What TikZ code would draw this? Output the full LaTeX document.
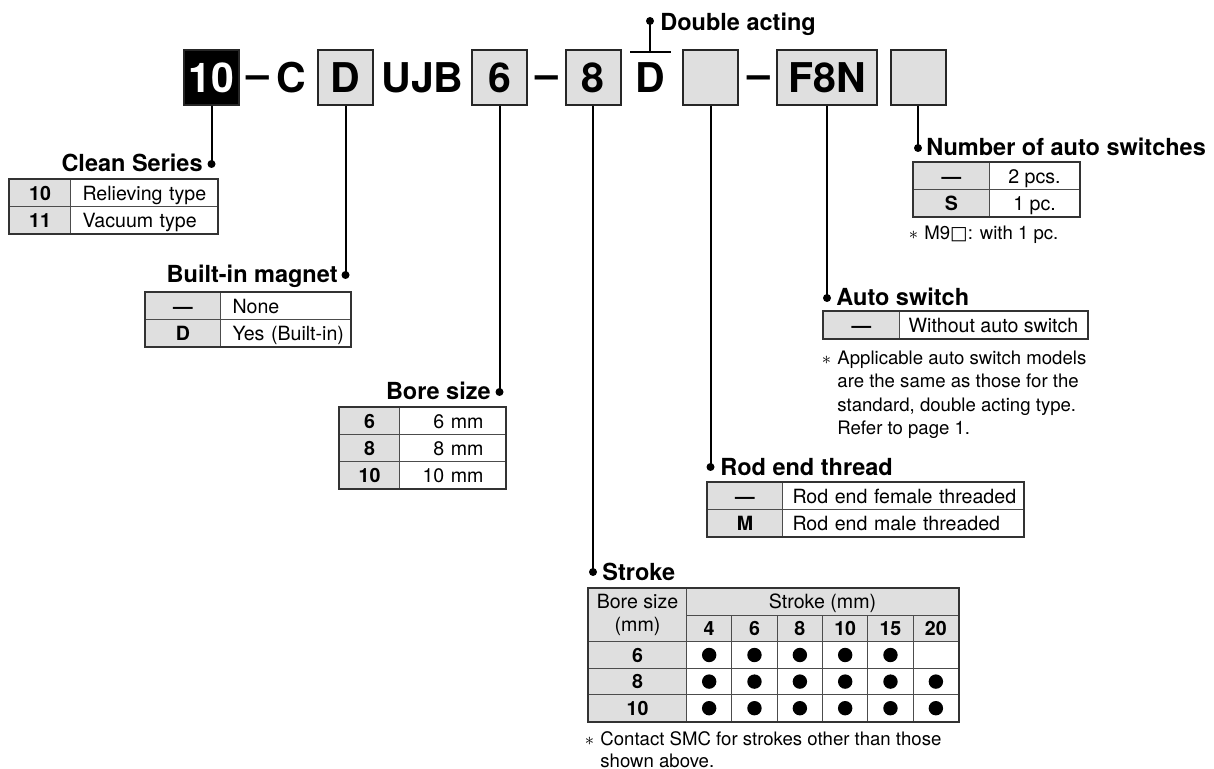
\documentclass[tikz,border=0pt]{standalone}
\usepackage{fontspec}
\setmainfont{TeX Gyre Heros}
\newfontfamily\symfont{DejaVu Sans}

\begin{document}
\begin{tikzpicture}[x=0.5pt, y=-0.5pt,
		code/.style={font=\fontsize{20.5}{24}\selectfont\bfseries, inner sep=0pt},
		codebox/.style={code, draw=black!85, line width=1pt, fill=gray!25, minimum width=27.5pt, minimum height=27.5pt, text height=14.8pt, text depth=0pt},
		hd/.style={font=\fontsize{11.75}{14}\selectfont\bfseries, inner sep=0pt},
		cell/.style={draw=black!70, line width=0.5pt, inner sep=0pt, anchor=north west, font=\fontsize{9.8}{12}\selectfont},
		keycell/.style={cell, fill=gray!25, font=\fontsize{9.8}{12}\selectfont\bfseries, minimum height=13.5pt, text height=7.1pt, text depth=0pt},
		valcell/.style={cell, fill=white, minimum height=13.5pt, text height=7.1pt, text depth=0pt},
		lval/.style={valcell, text width=#1, align=left, inner xsep=6pt},
		rval/.style={valcell, text width=#1, align=right, inner xsep=11pt},
		frame/.style={line width=0.8pt, draw=black!80},
		lead/.style={line width=1pt},
		note/.style={font=\fontsize{9.3}{11.65}\selectfont, inner sep=0pt, align=left, anchor=north west}]
	\useasboundingbox (0,0) rectangle (1214,769);

	% Kode model di baris atas
	\node[codebox, fill=black, text=white] (b10) at (211.5,77.5) {10};
	\node[code, anchor=base] (dash1) at (258,88.5) {–};
	\node[code, anchor=base] (cC) at (291.5,92.5) {C};
	\node[codebox] (bD) at (345.5,77.5) {D};
	\node[code, anchor=base] (cUJB) at (422.5,92.5) {UJB};
	\node[codebox] (b6) at (499.5,77.5) {6};
	\node[code, anchor=base] (dash2) at (546.5,88.5) {–};
	\node[codebox] (b8) at (593,77.5) {8};
	\node[code, anchor=base] (dA) at (650,92.5) {D};
	\node[codebox] (bRod) at (710.5,77.5) {};
	\node[code, anchor=base] (dash3) at (758.5,88.5) {–};
	\node[codebox, minimum width=50pt] (bSw) at (827,77.5) {F8N};
	\node[codebox] (bNum) at (918,77.5) {};

	% Titik ujung garis
	\coordinate (dClean) at (211.5,164);
	\coordinate (dMag) at (345.5,275);
	\coordinate (dBore) at (499.5,392);
	\coordinate (dStr) at (593,572);
	\coordinate (dRod) at (710.5,467);
	\coordinate (dSw) at (827,298);
	\coordinate (dNum) at (918,148);
	\coordinate (dAct) at (650,21);
	\coordinate (olL) at (630,52);
	\coordinate (olM) at (650,52);
	\coordinate (olR) at (671,52);

	% Garis penunjuk
	\draw[lead] (b10) -- (dClean);
	\draw[lead] (bD) -- (dMag);
	\draw[lead] (b6) -- (dBore);
	\draw[lead] (b8) -- (dStr);
	\draw[lead] (bRod) -- (dRod);
	\draw[lead] (bSw) -- (dSw);
	\draw[lead] (bNum) -- (dNum);
	\draw[lead] (olL) -- (olR);
	\draw[lead] (olM) -- (dAct);
	\foreach \d in {dClean,dMag,dBore,dStr,dRod,dSw,dNum,dAct}
		\fill (\d) circle (2pt);

	% Judul
	\node[hd, anchor=base east] (hClean) at (203,172) {Clean Series};
	\node[hd, anchor=base east] (hMag) at (338,283) {Built-in magnet};
	\node[hd, anchor=base east] (hBore) at (491,400) {Bore size};
	\node[hd, anchor=base west] (hAct) at (660,31) {Double acting};
	\node[hd, anchor=base west] (hNum) at (926,156) {Number of auto switches};
	\node[hd, anchor=base west] (hSw) at (836,306) {Auto switch};
	\node[hd, anchor=base west] (hRod) at (720,475) {Rod end thread};
	\node[hd, anchor=base west] (hStr) at (602,580) {Stroke};

	% Clean Series
	\node[keycell, minimum width=30.5pt] (csK1) at (9,179) {10};
	\node[lval=61.5pt] (csV1) at (70,179) {\mbox{Relieving type}};
	\node[keycell, minimum width=30.5pt] (csK2) at (9,206) {11};
	\node[lval=61.5pt] (csV2) at (70,206) {\mbox{Vacuum type}};
	\draw[frame] (csK1.north west) rectangle (csV2.south east);

	% Built-in magnet
	\node[keycell, minimum width=37.5pt] (bmK1) at (145,292) {—};
	\node[lval=53pt] (bmV1) at (220,292) {None};
	\node[keycell, minimum width=37.5pt] (bmK2) at (145,319) {D};
	\node[lval=53pt] (bmV2) at (220,319) {\mbox{Yes (Built-in)}};
	\draw[frame] (bmK1.north west) rectangle (bmV2.south east);

	% Bore size
	\node[keycell, minimum width=30pt] (bsK1) at (339,407) {6};
	\node[rval=31pt] (bsV1) at (399,407) {6 mm};
	\node[keycell, minimum width=30pt] (bsK2) at (339,434) {8};
	\node[rval=31pt] (bsV2) at (399,434) {8 mm};
	\node[keycell, minimum width=30pt] (bsK3) at (339,461) {10};
	\node[rval=31pt] (bsV3) at (399,461) {\mbox{10 mm}};
	\draw[frame] (bsK1.north west) rectangle (bsV3.south east);

	% Number of auto switches
	\node[keycell, minimum width=38pt] (nsK1) at (913,162) {—};
	\node[valcell, minimum width=45pt] (nsV1) at (989,162) {2 pcs.};
	\node[keycell, minimum width=38pt] (nsK2) at (913,189) {S};
	\node[valcell, minimum width=45pt] (nsV2) at (989,189) {1 pc.};
	\draw[frame] (nsK1.north west) rectangle (nsV2.south east);
	\node[note, anchor=base west] (nNum) at (924,240) {\llap{$\ast$\,\,}M9{\symfont □}: with 1 pc.};

	% Auto switch
	\node[keycell, minimum width=38pt] (asK1) at (823,311) {—};
	\node[valcell, minimum width=94pt] (asV1) at (899,311) {Without auto switch};
	\draw[frame] (asK1.north west) rectangle (asV1.south east);
	\node[note] (nSw) at (837,350.5) {\llap{$\ast$\,\,}Applicable auto switch models\\are the same as those for the\\standard, double acting type.\\Refer to page 1.};

	% Rod end thread
	\node[keycell, minimum width=37.5pt] (rtK1) at (707,482) {—};
	\node[lval=110.5pt, inner xsep=5pt] (rtV1) at (782,482) {\mbox{Rod end female threaded}};
	\node[keycell, minimum width=37.5pt] (rtK2) at (707,509) {M};
	\node[lval=110.5pt, inner xsep=5pt] (rtV2) at (782,509) {\mbox{Rod end male threaded}};
	\draw[frame] (rtK1.north west) rectangle (rtV2.south east);

	% Stroke
	\node[cell, fill=gray!25, minimum width=49pt, minimum height=26.6pt, align=center, font=\fontsize{9.8}{11.5}\selectfont] (stBore) at (588,588) {Bore size\\(mm)};
	\node[keycell, font=\fontsize{9.8}{12}\selectfont, minimum width=136pt, minimum height=13.3pt] (stHead) at (686,588) {Stroke (mm)};
	\foreach \c/\x in {4/686,6/731.3,8/776.7,10/822,15/867.3,20/912.7}
		\node[keycell, minimum width=22.67pt, minimum height=13.3pt] (stN\c) at (\x,614.6) {\c};
	\foreach \r/\y in {6/641.2,8/667.8,10/694.4} {
		\node[keycell, minimum width=49pt, minimum height=13.3pt] (stK\r) at (588,\y) {\r};
		\foreach \c/\x in {4/686,6/731.3,8/776.7,10/822,15/867.3,20/912.7}
			\node[valcell, minimum width=22.67pt, minimum height=13.3pt] (st\r c\c) at (\x,\y) {};
	}
	\foreach \c in {4,6,8,10,15}
		\fill (st6c\c) circle (3.6pt);
	\foreach \r in {8,10}
		\foreach \c in {4,6,8,10,15,20}
			\fill (st\r c\c) circle (3.6pt);
	\draw[frame] (stBore.north west) rectangle (st10c20.south east);
	\node[note, font=\fontsize{9.3}{11}\selectfont] (nStr) at (600,731.5) {\llap{$\ast$\,\,}Contact SMC for strokes other than those\\shown above.};

\end{tikzpicture}
\end{document}
